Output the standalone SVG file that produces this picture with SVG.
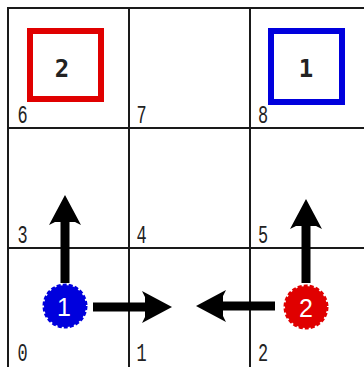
<svg xmlns="http://www.w3.org/2000/svg" width="364" height="367" viewBox="0 0 364 367">
<defs>
<style>
.grid{fill:none;stroke:#1a1a1a;stroke-width:2}
.lbl{font-family:"Liberation Mono","DejaVu Sans Mono",monospace;font-size:26px;fill:#222}
.goal{fill:#fff;stroke-width:6}
.gtxt{font-family:"DejaVu Sans Mono",monospace;font-weight:bold;font-size:24px;fill:#222;text-anchor:middle}
.shaft{stroke:#000;stroke-width:9;fill:none}
.head{fill:#000}
.ctxt{font-family:"Liberation Sans",Arial,sans-serif;font-size:25px;fill:#fff;text-anchor:middle}
</style>
<path id="hd" d="M0,0 L-30,-16 L-27,-10 L-27,10 L-30,16 Z"/>
</defs>
<rect x="0" y="0" width="364" height="367" fill="#fff"/>
<g id="grid">
<rect class="grid" x="8" y="8" width="363" height="360"/>
<line class="grid" x1="129" y1="8" x2="129" y2="368"/>
<line class="grid" x1="250" y1="8" x2="250" y2="368"/>
<line class="grid" x1="8" y1="128" x2="371" y2="128"/>
<line class="grid" x1="8" y1="248" x2="371" y2="248"/>
</g>
<g id="cell-labels" transform="scale(0.65 1)">
<text class="lbl" x="27" y="123">6</text>
<text class="lbl" x="210" y="123">7</text>
<text class="lbl" x="397" y="123">8</text>
<text class="lbl" x="27" y="243">3</text>
<text class="lbl" x="210" y="243">4</text>
<text class="lbl" x="397" y="243">5</text>
<text class="lbl" x="27" y="361">0</text>
<text class="lbl" x="210" y="361">1</text>
<text class="lbl" x="397" y="361">2</text>
</g>
<g id="goal2">
<rect class="goal" x="30" y="31" width="71" height="68" stroke="#e00000"/>
<text class="gtxt" x="62" y="77">2</text>
</g>
<g id="goal1">
<rect class="goal" x="271" y="31" width="71" height="71" stroke="#0000dd"/>
<text class="gtxt" x="306" y="77">1</text>
</g>
<g id="connectors">
<line class="shaft" x1="65" y1="283" x2="65" y2="222"/>
<use href="#hd" class="head" transform="translate(65,195) rotate(-90)"/>
<line class="shaft" x1="93" y1="307" x2="148" y2="307"/>
<use href="#hd" class="head" transform="translate(172,307)"/>
<line class="shaft" x1="306" y1="283" x2="306" y2="226"/>
<use href="#hd" class="head" transform="translate(306,199) rotate(-90)"/>
<line class="shaft" x1="275" y1="306" x2="220" y2="306"/>
<use href="#hd" class="head" transform="translate(196,306) rotate(180)"/>
</g>
<g id="agent1">
<circle cx="65" cy="306" r="21" fill="#0000dd" stroke="#0000dd" stroke-width="3" stroke-dasharray="4 2"/>
<text class="ctxt" x="64" y="316">1</text>
</g>
<g id="agent2">
<circle cx="306" cy="307" r="21" fill="#e00000" stroke="#e00000" stroke-width="3" stroke-dasharray="4 2"/>
<text class="ctxt" x="306" y="317">2</text>
</g>
</svg>
